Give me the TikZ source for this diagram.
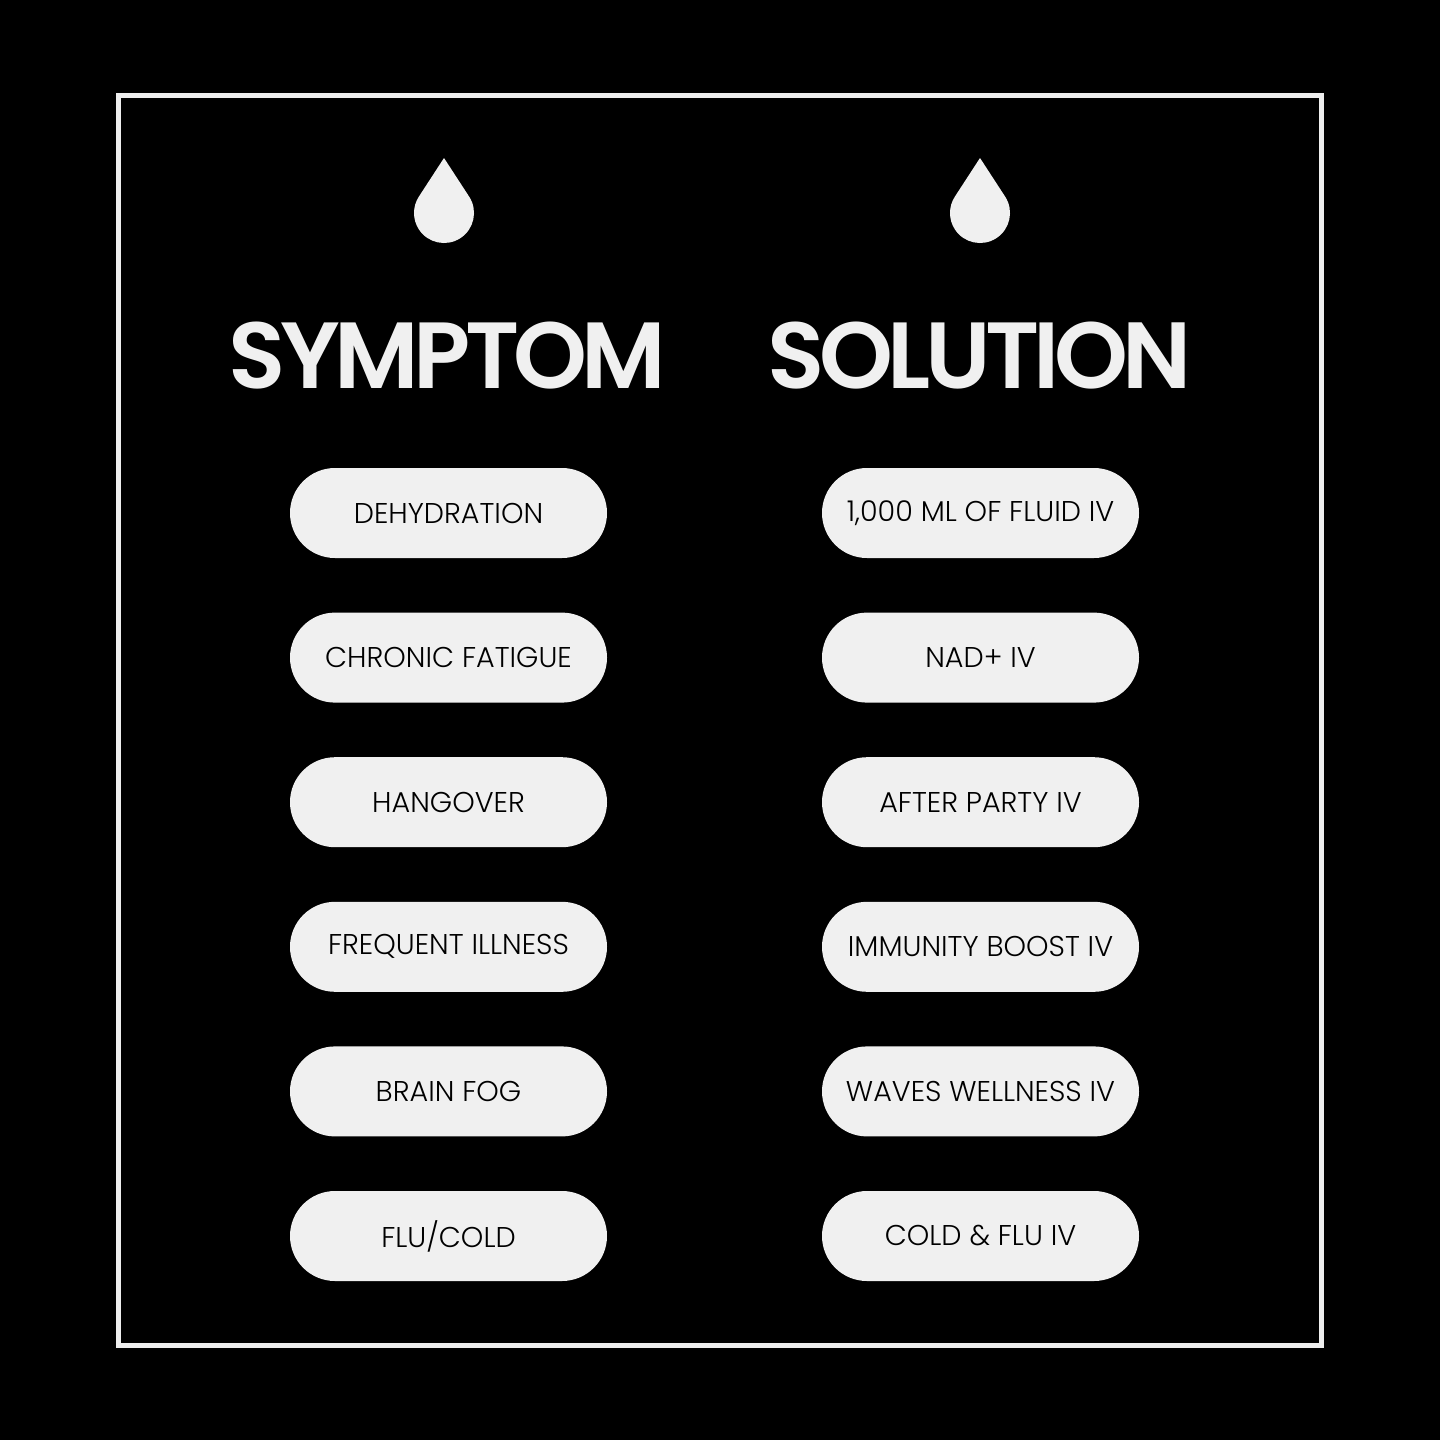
\documentclass[tikz,border=0pt]{standalone}
\usepackage{fontspec}
\usetikzlibrary{calc}
\setmainfont{Poppins}
\newfontfamily\pillfont{Poppins Light}
\newfontfamily\headfont[LetterSpace=-6]{Poppins SemiBold}
\definecolor{pillgray}{HTML}{F0F0F0}
\definecolor{framegray}{HTML}{EEEEEE}
\tikzset{
  pill/.style={fill=pillgray, rounded corners=22.5pt, minimum width=158.5pt, minimum height=45pt, inner sep=0pt, font=\pillfont\fontsize{14.3}{16}\selectfont, text=black},
  heading/.style={text=pillgray, inner sep=0pt, anchor=base, font=\headfont\fontsize{47}{50}\selectfont},
}
\begin{document}
\begin{tikzpicture}[x=0.5pt, y=-0.5pt]
\fill[black] (0,0) rectangle (1440,1440);
\useasboundingbox (0,0) rectangle (1440,1440);
\draw[framegray, line width=2.5pt] (118.5,95.5) rectangle (1321.5,1345);
% drops
\foreach \cx/\nm in {444/dropA, 980/dropB} {
  \coordinate (\nm) at (\cx,213);
  \fill[pillgray] (\cx,158) -- ($(\nm)+(-33:30)$) arc[start angle=-33, end angle=213, radius=30] -- cycle;
}
% headings
\node[heading] (symptom) at (447.5,388) {SYMPTOM};
\node[heading] (solution) at (979.5,388) {SOLUTION};
% pills
\foreach \i/\symtext/\soltext in {0/DEHYDRATION/{1,000 ML OF FLUID IV},
                             1/CHRONIC FATIGUE/NAD+ IV,
                             2/HANGOVER/AFTER PARTY IV,
                             3/FREQUENT ILLNESS/IMMUNITY BOOST IV,
                             4/BRAIN FOG/WAVES WELLNESS IV,
                             5/FLU\slash COLD/COLD \& FLU IV} {
  \node[pill] (sym\i) at (448.5,513+144.6*\i) {\symtext};
  \node[pill] (sol\i) at (980.5,513+144.6*\i) {\soltext};
}
\end{tikzpicture}
\end{document}
